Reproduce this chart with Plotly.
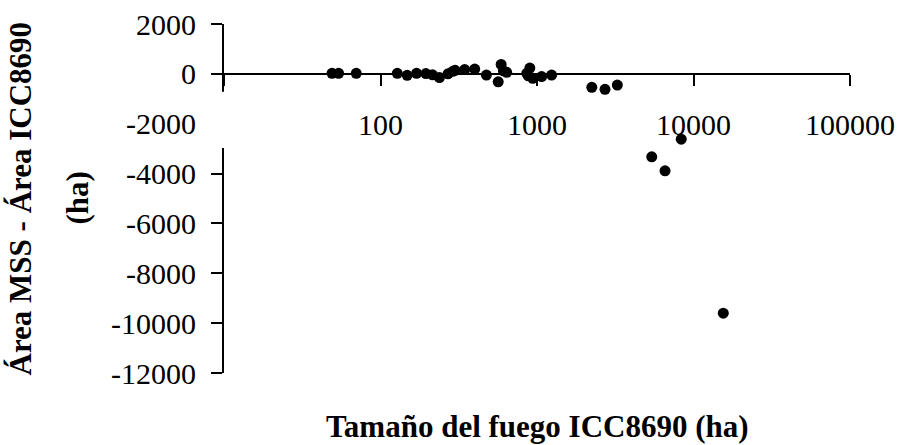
import plotly.graph_objects as go

# Fire size (ICC8690, ha) and area difference MSS - ICC8690 (ha)
fire_size = [49, 54, 70, 128, 148, 170, 195, 215, 238, 270, 290, 300, 345, 400,
             475, 565, 590, 610, 640, 860, 880, 900, 940, 1070, 1240,
             2240, 2720, 3260, 5410, 6580, 8350, 15500]
area_diff = [20, 20, 20, 20, -60, 20, 10, -40, -150, 0, 100, 140, 170, 190,
             -50, -320, 380, 120, 60, 20, -80, 230, -180, -110, -50,
             -540, -620, -450, -3330, -3890, -2620, -9600]

x_ticks = [10, 100, 1000, 10000, 100000]
x_tick_text = ["", "100", "1000", "10000", "100000"]
y_ticks = [2000, 0, -2000, -4000, -6000, -8000, -10000, -12000]
y_tick_text = ["2000", "0", "-2000", "-4000", "-6000", "-8000", "-10000", "-12000"]

FONT = "Liberation Serif"
Y_MIN, Y_MAX = -12000, 2000
PLOT_W, PLOT_H = 626, 349

fig = go.Figure()
fig.add_trace(go.Scatter(
    x=fire_size, y=area_diff, mode="markers",
    marker=dict(color="black", size=11, line=dict(width=0)),
    showlegend=False, cliponaxis=False,
))

fig.update_layout(
    width=901, height=445,
    margin=dict(l=224, r=51, t=24, b=72, autoexpand=False),
    paper_bgcolor="white", plot_bgcolor="white",
    font=dict(family=FONT, size=30, color="black"),
    xaxis=dict(
        type="log", range=[1, 5],
        tickvals=x_ticks, ticktext=x_tick_text,
        ticks="outside", ticklen=11, tickwidth=2, tickcolor="black",
        showline=True, linewidth=2, linecolor="black",
        showgrid=False, zeroline=False,
        anchor="free", position=(0 - Y_MIN) / (Y_MAX - Y_MIN),
        ticklabelstandoff=13,
    ),
    yaxis=dict(
        range=[Y_MIN, Y_MAX], tickvals=y_ticks, ticktext=y_tick_text,
        ticks="outside", ticklen=11, tickwidth=2, tickcolor="black",
        showline=True, linewidth=2, linecolor="black",
        showgrid=False, zeroline=False,
        ticklabelstandoff=9,
    ),
    shapes=[
        # blank band behind the x tick labels, cutting the vertical axis
        dict(type="rect", xref="paper", yref="y", x0=-0.03, x1=0.01,
             y0=-720, y1=-2970, fillcolor="white", line=dict(width=0),
             layer="above"),
    ],
    annotations=[
        dict(text="<b>Área MSS - Área ICC8690</b>", xref="paper", yref="paper",
             x=(20 - 224) / PLOT_W, y=0.5, textangle=-90, showarrow=False,
             xanchor="center", yanchor="middle", font=dict(size=31)),
        dict(text="<b>(ha)</b>", xref="paper", yref="paper",
             x=(77 - 224) / PLOT_W, y=0.5, textangle=-90, showarrow=False,
             xanchor="center", yanchor="middle", font=dict(size=31)),
        dict(text="<b>Tamaño del fuego ICC8690 (ha)</b>", xref="paper", yref="paper",
             x=0.5, y=-54 / PLOT_H, showarrow=False,
             xanchor="center", yanchor="middle", font=dict(size=31)),
    ],
)

fig.write_html("out.html")
